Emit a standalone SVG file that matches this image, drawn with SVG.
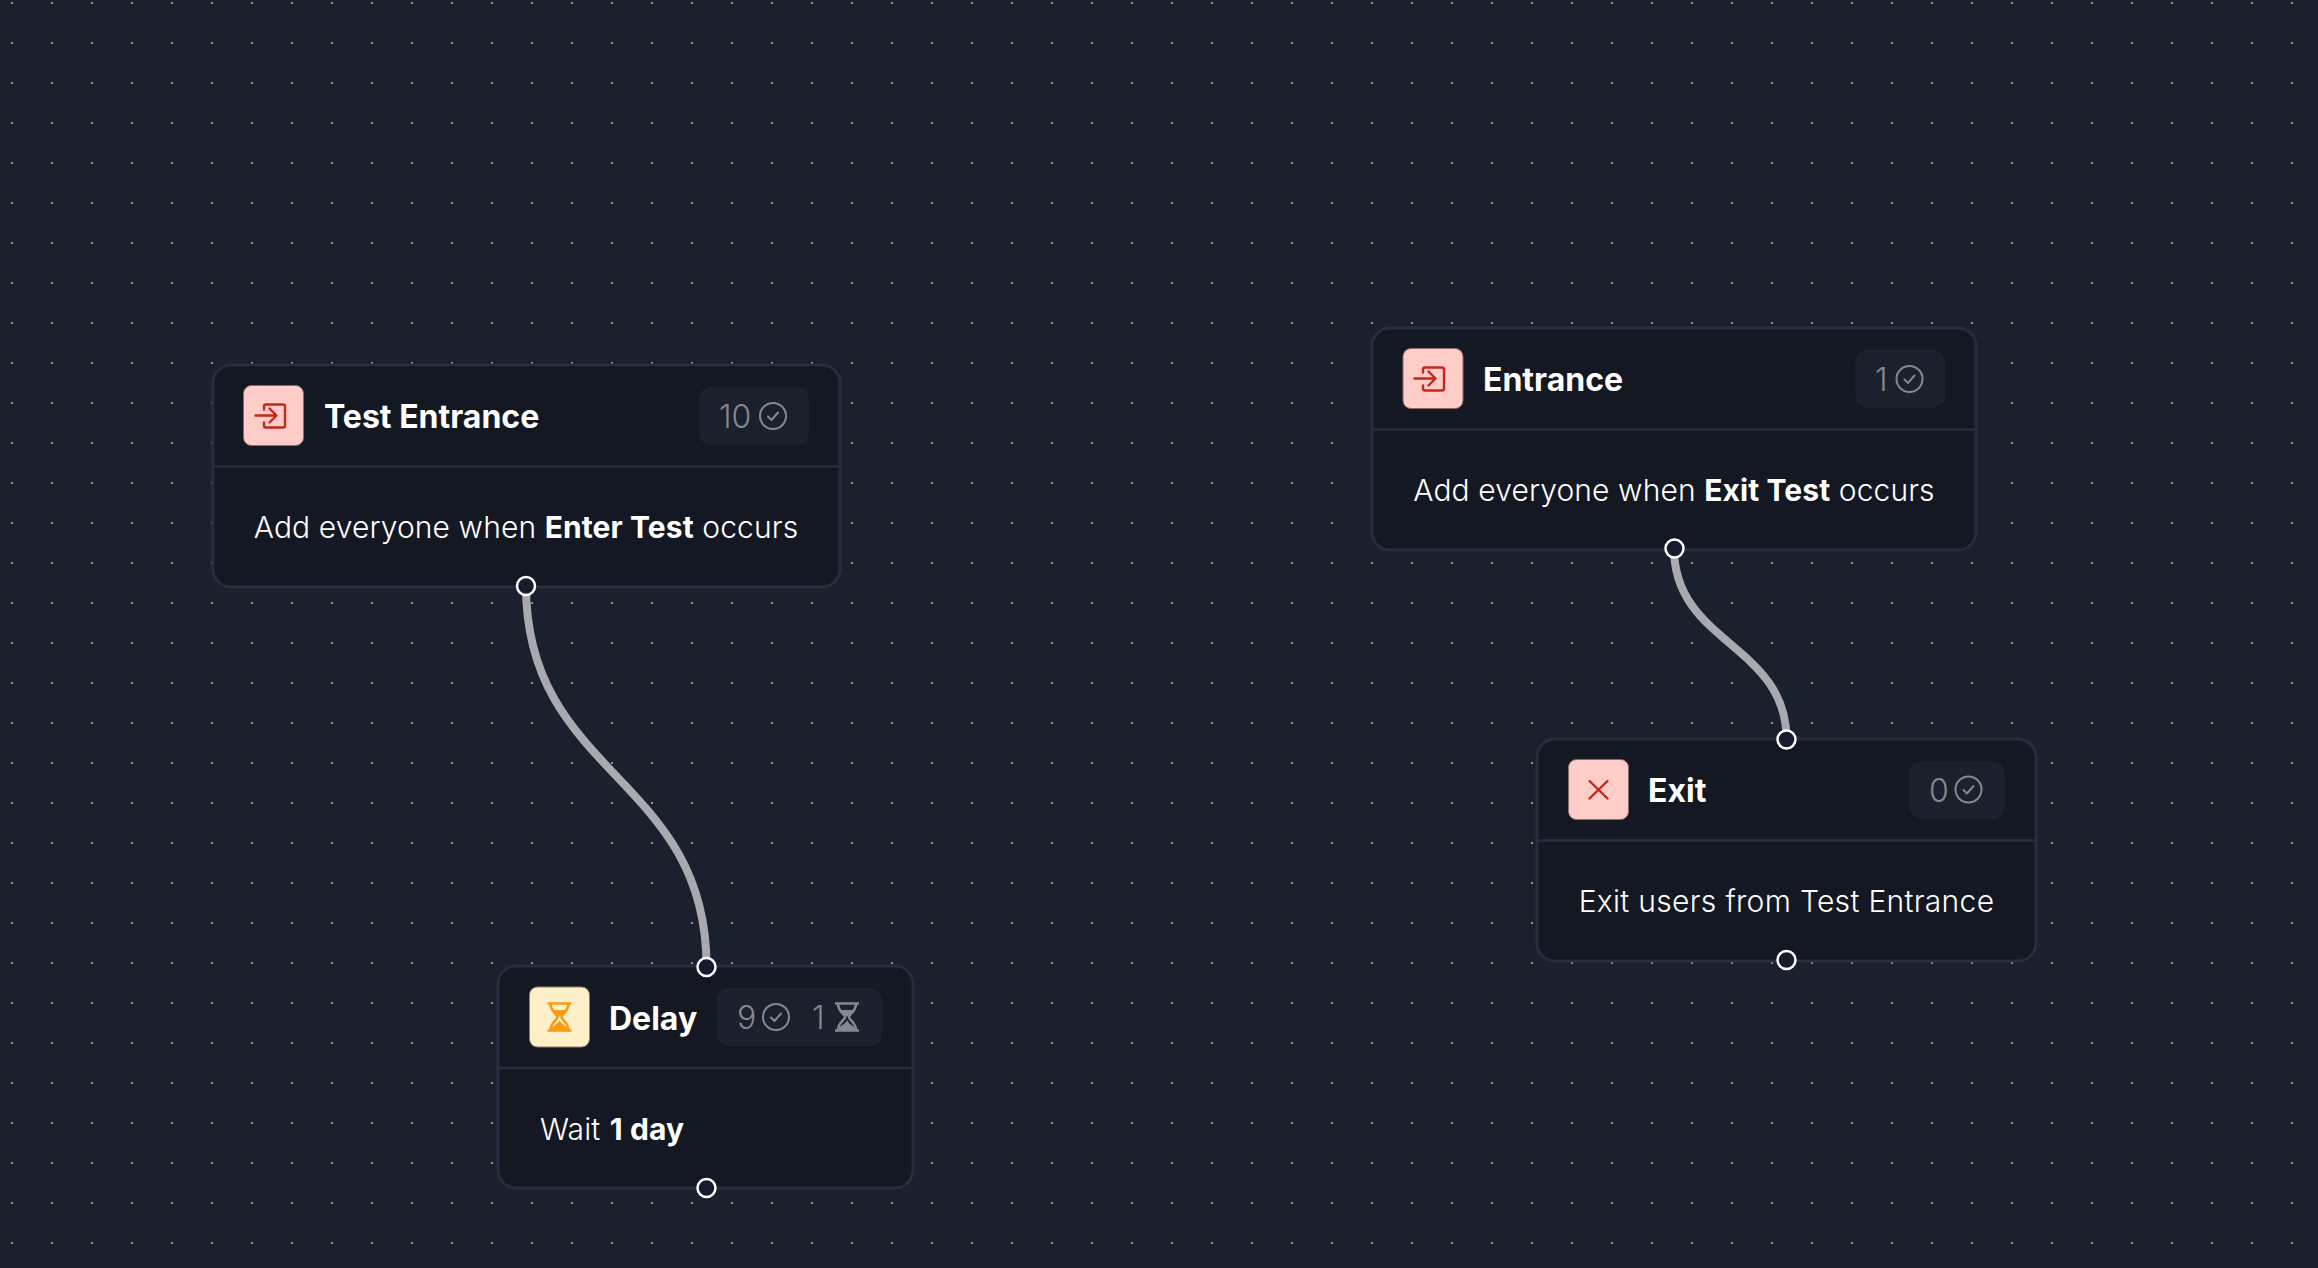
<svg xmlns="http://www.w3.org/2000/svg" width="2318" height="1268" viewBox="0 0 2318 1268">
<style>
text{font-family:Inter,"Noto Sans",sans-serif}
.card{fill:#141822;stroke:#272c3e;stroke-width:3}
.div{stroke:#272c3e;stroke-width:2.5;fill:none}
.red{fill:#fecdc8;stroke:#8a6a6a;stroke-width:1}
.yel{fill:#fdefc8;stroke:#8a8268;stroke-width:1}
.title{font-size:32px;font-weight:700;fill:#fff}
.body{font-size:30px;font-weight:300;letter-spacing:.1px;fill:#fff}
.body tspan{font-weight:700}
.badge{fill:#1a202c}
.num{font-size:32px;font-weight:300;fill:#85888e}
.port{fill:#1a1a2e;stroke:#fff;stroke-width:2.5}
.edge{fill:none;stroke:#a8aab0;stroke-width:8}
.ri{fill:none;stroke:#c0291e;stroke-width:2.4;stroke-linecap:round;stroke-linejoin:round}
.chk{fill:none;stroke:#85888e;stroke-width:2;stroke-linecap:round;stroke-linejoin:round}
</style>
<defs>
<pattern id="dots" patternUnits="userSpaceOnUse" width="40" height="40"><rect x="11" y="2" width="2" height="2" fill="#8f929a"/></pattern>
<g id="enter"><path class="ri" d="M-9.500 -6V-9A2 2 0 0 1-7.500 -11H9.500A2 2 0 0 1 11.500 -9V10A2 2 0 0 1 9.500 12H-7.500A2 2 0 0 1-9.500 10V7"/><path class="ri" d="M-18 0H3M-4 -7L3 0L-4 7"/></g>
<g id="check"><circle class="chk" r="13"/><path class="chk" d="M-5 0.500L-1.500 4L5 -3.500"/></g>
<path id="glass" d="M-12 -13.500H12M-12 13.500H12M-9 -13.500C-9 -5 -2 -3 -2 0C-2 3 -9 5 -9 13.500M9 -13.500C9 -5 2 -3 2 0C2 3 9 5 9 13.500"/>
<path id="sand" d="M-7 -7H7C6 -3 1 -2 0 0C-1 -2 -6 -3 -7 -7ZM0 3C1 7 7 8 9 13.500H-9C-7 8 -1 7 0 3Z"/>
</defs>
<rect width="2318" height="1268" fill="#1a202c"/>
<rect width="2318" height="1268" fill="url(#dots)"/>
<g id="connectors">
<path class="edge" d="M526 586C526 776 706.500 776 706.500 966"/>
<path class="edge" d="M1674 548C1674 644 1786.500 644 1786.500 739"/>
</g>
<g id="node-test-entrance">
<rect class="card" x="213" y="365" width="627" height="222" rx="18"/>
<path class="div" d="M213 466.500H840"/>
<rect class="red" x="243.500" y="385.500" width="60" height="60" rx="8"/>
<use href="#enter" x="273.500" y="415.500"/>
<text class="title" x="324" y="428">Test Entrance</text>
<rect class="badge" x="699" y="387" width="110" height="58" rx="12"/>
<text class="num" x="719" y="428">10</text>
<use href="#check" x="773" y="416"/>
<text class="body" x="526" y="538" text-anchor="middle">Add everyone when <tspan>Enter Test</tspan> occurs</text>
<circle class="port" cx="526" cy="586" r="9"/>
</g>
<g id="node-delay">
<rect class="card" x="498" y="966" width="415" height="222" rx="18"/>
<path class="div" d="M498 1068H913"/>
<rect class="yel" x="529.500" y="987" width="60" height="60" rx="8"/>
<g transform="translate(559.500 1017)"><use href="#glass" fill="none" stroke="#f99a12" stroke-width="2.600"/><use href="#sand" fill="#f99a12"/></g>
<text class="title" x="609" y="1030">Delay</text>
<rect class="badge" x="717" y="988" width="165" height="58" rx="12"/>
<text class="num" x="737" y="1029">9</text>
<use href="#check" x="776" y="1017"/>
<text class="num" x="812" y="1029">1</text>
<g transform="translate(847 1017)"><use href="#glass" fill="none" stroke="#85888e" stroke-width="2.600"/><use href="#sand" fill="#85888e"/></g>
<text class="body" x="540" y="1140">Wait <tspan dx="1">1 day</tspan></text>
<circle class="port" cx="706.500" cy="967" r="9"/>
<circle class="port" cx="706.500" cy="1188" r="9"/>
</g>
<g id="node-entrance">
<rect class="card" x="1372" y="328" width="604" height="222" rx="18"/>
<path class="div" d="M1372 429.500H1976"/>
<rect class="red" x="1403" y="348.500" width="60" height="60" rx="8"/>
<use href="#enter" x="1432.500" y="378.500"/>
<text class="title" x="1483" y="391">Entrance</text>
<rect class="badge" x="1855.500" y="350" width="89.500" height="58" rx="12"/>
<text class="num" x="1875" y="391">1</text>
<use href="#check" x="1909.500" y="379"/>
<text class="body" x="1674" y="501" text-anchor="middle">Add everyone when <tspan>Exit Test</tspan> occurs</text>
<circle class="port" cx="1674.500" cy="548.500" r="9"/>
</g>
<g id="node-exit">
<rect class="card" x="1537" y="739" width="499" height="222" rx="18"/>
<path class="div" d="M1537 840.500H2036"/>
<rect class="red" x="1568.500" y="759.500" width="60" height="60" rx="8"/>
<path class="ri" d="M1589.500 781L1607.500 798.500M1607.500 781L1589.500 798.500"/>
<text class="title" x="1648" y="802">Exit</text>
<rect class="badge" x="1909" y="761" width="95.500" height="58" rx="12"/>
<text class="num" x="1929" y="802">0</text>
<use href="#check" x="1968.500" y="789.500"/>
<text class="body" x="1786.500" y="912" text-anchor="middle" style="letter-spacing:.3px">Exit users from Test Entrance</text>
<circle class="port" cx="1786.500" cy="739.500" r="9"/>
<circle class="port" cx="1786.500" cy="960" r="9"/>
</g>
</svg>
